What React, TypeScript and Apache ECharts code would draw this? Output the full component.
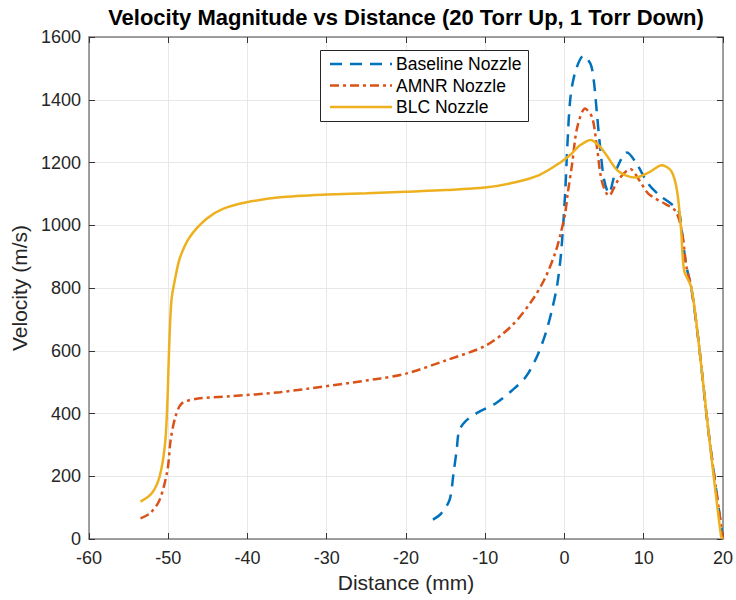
import React, { useEffect, useRef } from "react";
import * as echarts from "echarts";

const titleText = "Velocity Magnitude vs Distance (20 Torr Up, 1 Torr Down)";
const xAxisName = "Distance (mm)";
const yAxisName = "Velocity (m/s)";
const seriesNames = ["Baseline Nozzle", "AMNR Nozzle", "BLC Nozzle"];

const baselineX = [-16.6, -15.6, -14.5, -14.0, -13.6, -13.3, -12.5, -10.8, -8.7, -6.6, -4.9, -3.5, -2.4, -1.6, -0.9, -0.4, 0.1, 0.35, 0.75, 1.4, 2.4, 3.3, 3.7, 4.1, 4.5, 5.0, 5.6, 6.5, 7.9, 9.0, 10.6, 12.0, 13.5, 14.4, 14.8, 15.3, 16.0, 16.9, 18.2, 20];
const baselineY = [62, 80, 125, 210, 285, 345, 375, 405, 432, 474, 516, 580, 654, 728, 813, 920, 1110, 1248, 1407, 1492, 1540, 1513, 1460, 1354, 1248, 1145, 1102, 1175, 1232, 1200, 1131, 1095, 1068, 1046, 983, 880, 800, 633, 336, 0];

const amnrX = [-53.5, -52.3, -51.1, -50.1, -49.7, -49.1, -48.3, -46.4, -42.2, -35.9, -23.4, -20, -15, -9.9, -6.6, -4.1, -2.4, -1.1, -0.5, 0.1, 0.4, 0.96, 1.6, 2.6, 3.5, 4.1, 4.7, 5.6, 6.8, 8.3, 9.4, 10.6, 12.7, 14.0, 14.8, 15.4, 16.0, 16.9, 18.2, 20];
const amnrY = [66, 82, 124, 219, 315, 389, 432, 447, 455, 468, 511, 527, 569, 617, 681, 760, 834, 917, 972, 1040, 1100, 1195, 1311, 1372, 1343, 1248, 1142, 1094, 1145, 1179, 1145, 1100, 1068, 1046, 983, 866, 802, 633, 336, 0];

const blcX = [-53.5, -52.1, -51.1, -50.4, -50.1, -49.9, -49.6, -49.1, -48.5, -47.3, -45.2, -43.1, -40.1, -35.9, -30, -25, -20, -15, -10, -6.2, -3.2, -0.7, 0.9, 1.8, 3.3, 4.3, 5.2, 6.8, 8.9, 10.6, 12.3, 13.5, 14.2, 14.7, 15.1, 16.0, 16.9, 18.2, 19.75, 20];
const blcY = [119, 145, 198, 304, 442, 601, 760, 834, 898, 962, 1020, 1052, 1073, 1089, 1098, 1102, 1107, 1112, 1120, 1137, 1160, 1197, 1228, 1252, 1272, 1255, 1227, 1172, 1152, 1168, 1191, 1172, 1110, 990, 856, 802, 633, 336, 10, 0];

const xMin = -60, xMax = 20, xStep = 10;
const yMin = 0, yMax = 1600, yStep = 200;

const colors = ["#0072BD", "#D95319", "#EDB120"];
const dashes: (number[] | null)[] = [[12, 8], [9, 4, 3, 4], null];

const zip = (xs: number[], ys: number[]) => xs.map((x, i) => [x, ys[i]]);

export default function App() {
  const ref = useRef<HTMLDivElement>(null);
  useEffect(() => {
    if (!ref.current) return;
    const chart = echarts.init(ref.current, undefined, { renderer: "svg" });
    const font = "Liberation Sans";
    const axisColor = "#808080";
    const labelColor = "#262626";
    const baseAxis = {
      axisLine: { show: true, onZero: false, lineStyle: { color: axisColor, width: 1.5 } },
      axisTick: { show: true, inside: true, length: 6, lineStyle: { color: "#333", width: 1 } },
    };

    const legendRows = [64, 85.5, 107];
    const legendGraphics: any[] = [
      {
        type: "rect",
        shape: { x: 320.5, y: 50.5, width: 208, height: 71 },
        style: { fill: "#fff", stroke: "#262626", lineWidth: 1 },
        z: 10,
      },
    ];
    seriesNames.forEach((name, i) => {
      legendGraphics.push({
        type: "line",
        shape: { x1: 330, y1: legendRows[i], x2: 392, y2: legendRows[i] },
        style: {
          stroke: colors[i],
          lineWidth: 2.5,
          lineDash: dashes[i] || undefined,
        },
        z: 11,
      });
      legendGraphics.push({
        type: "text",
        x: 396,
        y: legendRows[i],
        style: {
          text: name,
          fontFamily: font,
          fontSize: 17.5,
          fill: "#000",
          textAlign: "left",
          textVerticalAlign: "middle",
        },
        z: 11,
      });
    });

    chart.setOption({
      animation: false,
      backgroundColor: "#ffffff",
      color: colors,
      grid: { left: 89, right: 13, top: 37, bottom: 61, containLabel: false },
      graphic: [
        {
          type: "text",
          x: 406,
          y: 17,
          style: {
            text: titleText,
            textAlign: "center",
            textVerticalAlign: "middle",
            fontFamily: font,
            fontWeight: "bold",
            fontSize: 22,
            fill: "#000",
          },
        },
        ...legendGraphics,
      ],
      xAxis: [
        {
          type: "value",
          min: xMin,
          max: xMax,
          interval: xStep,
          position: "bottom",
          name: xAxisName,
          nameLocation: "middle",
          nameGap: 31,
          nameTextStyle: { fontFamily: font, fontSize: 21, color: labelColor },
          ...baseAxis,
          axisLabel: { fontFamily: font, fontSize: 18, color: labelColor, margin: 10 },
          splitLine: { show: true, lineStyle: { color: "#e8e8e8", width: 1 } },
        },
        {
          type: "value",
          min: xMin,
          max: xMax,
          interval: xStep,
          position: "top",
          ...baseAxis,
          axisLabel: { show: false },
          splitLine: { show: false },
        },
      ],
      yAxis: [
        {
          type: "value",
          min: yMin,
          max: yMax,
          interval: yStep,
          position: "left",
          name: yAxisName,
          nameLocation: "middle",
          nameGap: 57,
          nameTextStyle: { fontFamily: font, fontSize: 21, color: labelColor },
          ...baseAxis,
          axisLabel: {
            fontFamily: font,
            fontSize: 18,
            color: labelColor,
            margin: 8,
            formatter: (v: number) => String(v),
          },
          splitLine: { show: true, lineStyle: { color: "#e8e8e8", width: 1 } },
        },
        {
          type: "value",
          min: yMin,
          max: yMax,
          interval: yStep,
          position: "right",
          ...baseAxis,
          axisLabel: { show: false },
          splitLine: { show: false },
        },
      ],
      series: [
        {
          name: seriesNames[0],
          type: "line",
          data: zip(baselineX, baselineY),
          showSymbol: false,
          symbol: "none",
          smooth: 0.3,
          lineStyle: { color: colors[0], width: 2.5, type: dashes[0] },
          z: 3,
        },
        {
          name: seriesNames[1],
          type: "line",
          data: zip(amnrX, amnrY),
          showSymbol: false,
          symbol: "none",
          smooth: 0.3,
          lineStyle: { color: colors[1], width: 2.5, type: dashes[1] },
          z: 4,
        },
        {
          name: seriesNames[2],
          type: "line",
          data: zip(blcX, blcY),
          showSymbol: false,
          symbol: "none",
          smooth: 0.3,
          lineStyle: { color: colors[2], width: 2.5, type: "solid" },
          z: 5,
        },
      ],
    });
    return () => chart.dispose();
  }, []);
  return (
    <div
      ref={ref}
      style={{ position: "absolute", left: 0, top: 0, width: 736, height: 600 }}
    />
  );
}
